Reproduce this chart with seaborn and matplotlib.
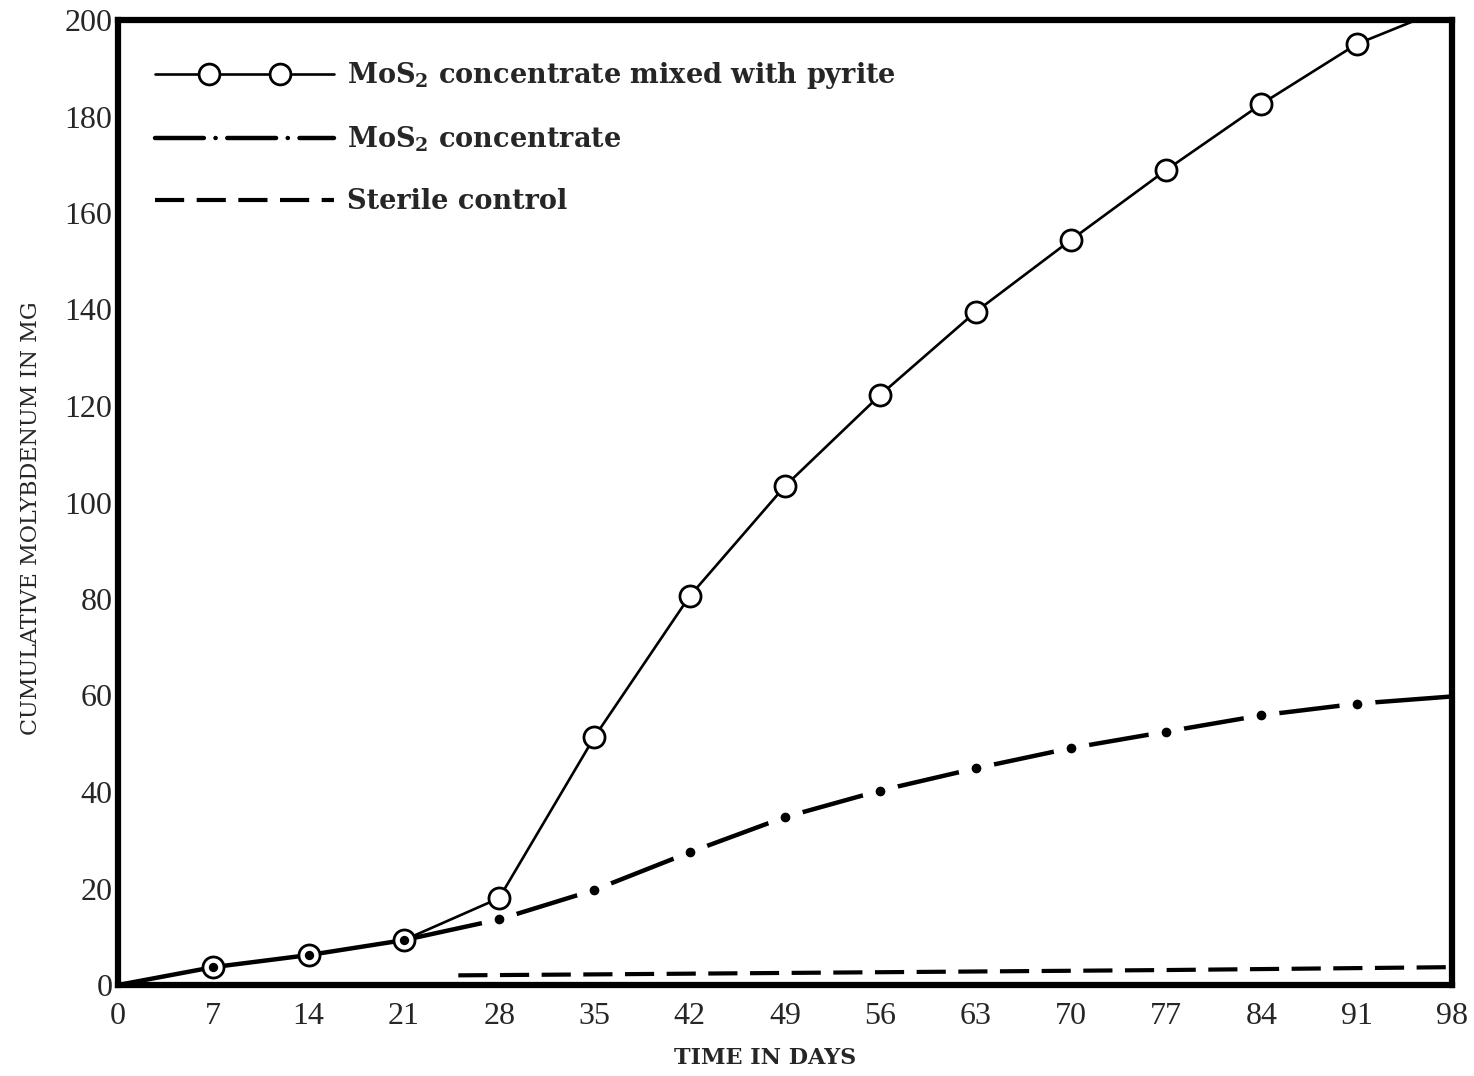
import matplotlib
matplotlib.use("Agg")
import matplotlib.pyplot as plt
import seaborn as sns
from matplotlib.lines import Line2D
from matplotlib.legend_handler import HandlerLine2D, HandlerTuple

# ---- data ----
days = [0, 7, 14, 21, 28, 35, 42, 49, 56, 63, 70, 77, 84, 91, 98]
pyrite_mix = [0, 3.7, 6.2, 9.3, 18.0, 51.4, 80.6, 103.4, 122.3, 139.5, 154.4, 168.9, 182.6, 195.0, 203.0]
mos2_conc = [0, 3.7, 6.2, 9.3, 13.6, 19.7, 27.5, 34.8, 40.3, 44.9, 49.1, 52.5, 55.9, 58.3, 59.8]
sterile_days = [25, 35, 49, 63, 77, 91, 98]
sterile = [2.0, 2.2, 2.5, 2.8, 3.1, 3.5, 3.7]
xticks = [0, 7, 14, 21, 28, 35, 42, 49, 56, 63, 70, 77, 84, 91, 98]
yticks = [0, 20, 40, 60, 80, 100, 120, 140, 160, 180, 200]
labels = ["MoS$_\\mathregular{2}$ concentrate mixed with pyrite",
          "MoS$_\\mathregular{2}$ concentrate",
          "Sterile control"]

sns.set_style("white")
plt.rcParams["font.family"] = ["DejaVu Serif"]
plt.rcParams["mathtext.fontset"] = "custom"
plt.rcParams["mathtext.rm"] = "DejaVu Serif:bold"

fig = plt.figure(figsize=(14.74, 10.76), dpi=100)
ax = fig.add_axes([118/1474, 1-985/1076, (1452-118)/1474, (985-20)/1076])

# MoS2 concentrate: solid line, dots with white halo -> dash-dot look
sns.lineplot(x=days, y=mos2_conc, ax=ax, color="black", lw=3.2, zorder=2,
             marker="o", markersize=16.5, markerfacecolor="black",
             markeredgecolor="white", markeredgewidth=9.5,
             markevery=list(range(4, 14)))
# pyrite mix line and open circles
sns.lineplot(x=days, y=pyrite_mix, ax=ax, color="black", lw=1.9, zorder=4)
sns.scatterplot(x=days[1:14], y=pyrite_mix[1:14], ax=ax, s=230, facecolor="white",
                edgecolor="black", linewidth=2.0, zorder=5)
# MoS2 dots inside the circles where the curves coincide
sns.scatterplot(x=days[1:4], y=mos2_conc[1:4], ax=ax, s=45, color="black",
                linewidth=0, zorder=6)
# sterile control
sns.lineplot(x=sterile_days, y=sterile, ax=ax, color="black", lw=3.0, zorder=2)
ax.lines[-1].set_dashes((7, 3))

ax.set_xlim(0, 98)
ax.set_ylim(0, 200)
ax.set_xticks(xticks)
ax.set_yticks(yticks)
ax.set_xticklabels([str(t) for t in xticks], family="Liberation Serif", fontsize=23)
ax.set_yticklabels([str(t) for t in yticks], family="Liberation Serif", fontsize=23)
ax.tick_params(axis="both", direction="in", length=10, width=2.5, color="black")
ax.tick_params(axis="x", pad=12)
ax.tick_params(axis="y", pad=4)
for s in ax.spines.values():
    s.set_linewidth(4.5)
    s.set_color("black")

ax.set_xlabel("TIME IN DAYS", fontsize=16, fontweight="bold")
ax.xaxis.set_label_coords((765-118)/1334, -(1047-985)/965)
ax.set_ylabel("CUMULATIVE MOLYBDENUM IN MG", fontsize=16)
ax.yaxis.set_label_coords(-(118-42)/1334, (985-518)/965)

# legend
h1a = Line2D([], [], color="black", lw=1.9)
h1b = Line2D([], [], color="black", lw=0, marker="o", markersize=15,
             markerfacecolor="white", markeredgecolor="black", markeredgewidth=2.0)
h2 = Line2D([], [], color="black", lw=3.2, dash_capstyle="round",
            dashes=(11, 2.6, 0.05, 2.6))
h3 = Line2D([], [], color="black", lw=3.0, dashes=(7, 3))
leg = ax.legend([(h1a, h1b), h2, h3], labels, loc="upper left",
                bbox_to_anchor=((155-118)/1334, 1-(60-20)/965),
                frameon=False,
                prop={"family": "DejaVu Serif", "weight": "bold", "size": 19.5},
                handlelength=6.6, handletextpad=0.5, labelspacing=1.25,
                borderpad=0, borderaxespad=0,
                handler_map={tuple: HandlerTuple(ndivide=1),
                             h1b: HandlerLine2D(numpoints=2, marker_pad=2.0)})

fig.savefig("out.png", dpi=100)
